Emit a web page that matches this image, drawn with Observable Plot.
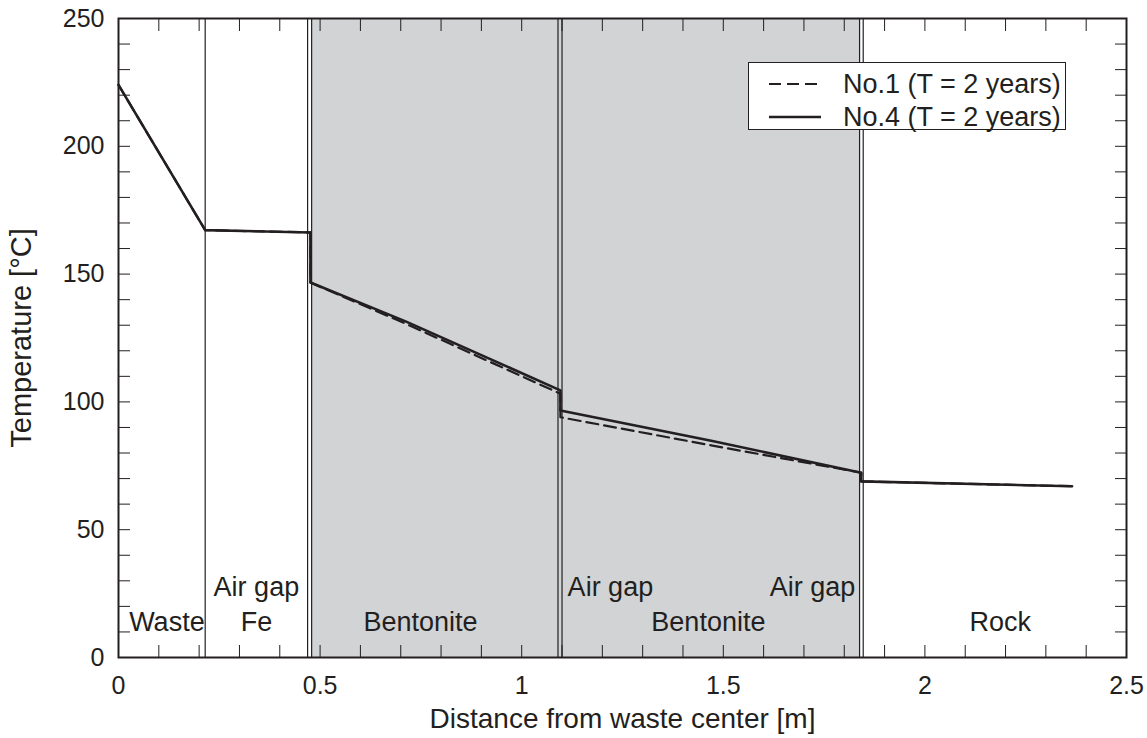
<!DOCTYPE html>
<html>
<head>
<meta charset="utf-8">
<script src="https://cdn.jsdelivr.net/npm/d3@7"></script>
<script src="https://cdn.jsdelivr.net/npm/@observablehq/plot@0.6"></script>
<style>
  body { margin: 0; background: #fff; }
  #wrap { position: relative; width: 1147px; height: 738px; }
  .legend {
    position: absolute; left: 748px; top: 62px; width: 316px; height: 66px;
    border: 1.5px solid #231f20; background: #fff;
    font-family: "Liberation Sans", Arial, sans-serif; font-size: 27px; color: #231f20;
  }
  .legend .row { position: absolute; left: 0; height: 30px; display: flex; align-items: center; }
  .legend svg { margin-left: 18px; margin-right: 20px; }
</style>
</head>
<body>
<div id="wrap"></div>
<script>
// Radial distance from the waste centre [m]
const distance = [0, 0.215, 0.476, 0.476, 0.712, 1.096, 1.096, 1.47, 1.842, 1.842, 2.365];
// Temperature profiles at T = 2 years [°C]
const tempNo1 = [224, 167.2, 166.3, 146.7, 130.6, 103.2, 94.0, 83.0, 72.3, 68.9, 67.0];
const tempNo4 = [224, 167.2, 166.3, 146.7, 131.5, 104.5, 96.6, 84.8, 72.3, 68.9, 67.0];

// Material interfaces [m]
const interfaces = [0.215, 0.469, 0.479, 1.090, 1.100, 1.838, 1.847];
// Bentonite buffer extent [m]
const bufferStart = [0.479];
const bufferEnd = [1.838];

// Layer names and where they are written
const layerNames = ["Waste", "Air gap", "Fe", "Bentonite", "Air gap", "Bentonite", "Air gap", "Rock"];
const layerX = [0.12, 0.342, 0.342, 0.749, 1.22, 1.463, 1.721, 2.187];
const layerY = [13.6, 27.4, 13.6, 13.6, 27.4, 13.6, 27.4, 13.6];

// Axis ticks
const xMajor = [0, 0.5, 1, 1.5, 2, 2.5];
const yMajor = [0, 50, 100, 150, 200, 250];
const xMinor = d3.range(0, 26).map(i => i / 10);
const yMinor = d3.range(0, 26).map(i => i * 10);

const no1 = distance.map((d, i) => ({x: d, t: tempNo1[i]}));
const no4 = distance.map((d, i) => ({x: d, t: tempNo4[i]}));
const buffer = bufferStart.map((s, i) => ({x1: s, x2: bufferEnd[i]}));
const layers = layerNames.map((n, i) => ({name: n, x: layerX[i], y: layerY[i]}));

const ink = "#231f20";
const blank = () => "";

const chart = Plot.plot({
  width: 1147,
  height: 738,
  marginLeft: 118,
  marginRight: 21,
  marginTop: 18,
  marginBottom: 81,
  x: {domain: [0, 2.5]},
  y: {domain: [0, 250]},
  style: {
    fontFamily: "'Liberation Sans', Arial, sans-serif",
    fontSize: "25px",
    color: ink,
    background: "#fff"
  },
  marks: [
    Plot.rect(buffer, {x1: "x1", x2: "x2", fill: "#d1d3d4"}),
    Plot.ruleX(interfaces, {stroke: ink, strokeWidth: 1.2}),
    Plot.line(no1, {x: "x", y: "t", stroke: ink, strokeWidth: 2.2, strokeDasharray: "12,6"}),
    Plot.line(no4, {x: "x", y: "t", stroke: ink, strokeWidth: 2.6}),
    Plot.text(layers, {x: "x", y: "y", text: "name", fill: ink, fontSize: 27}),
    // inward minor/major ticks on all four sides
    Plot.axisX({anchor: "bottom", ticks: xMinor, tickSize: 12, dy: -12, tickFormat: blank, label: null, stroke: ink}),
    Plot.axisX({anchor: "top", ticks: xMinor, tickSize: 12, dy: 12, tickFormat: blank, label: null, stroke: ink}),
    Plot.axisY({anchor: "left", ticks: yMinor, tickSize: 12, dx: 12, tickFormat: blank, label: null, stroke: ink}),
    Plot.axisY({anchor: "right", ticks: yMinor, tickSize: 12, dx: -12, tickFormat: blank, label: null, stroke: ink}),
    // tick labels and titles
    Plot.axisX({
      anchor: "bottom", ticks: xMajor, tickSize: 0, tickPadding: 19,
      tickFormat: d => String(d), fontSize: 25,
      label: null
    }),
    Plot.axisX({
      anchor: "bottom", ticks: [], tickSize: 0, fontSize: 28,
      label: "Distance from waste center [m]", labelAnchor: "center", labelOffset: 70, labelArrow: "none"
    }),
    Plot.axisY({
      anchor: "left", ticks: yMajor, tickSize: 0, tickPadding: 14,
      tickFormat: d => String(d), fontSize: 25,
      label: null
    }),
    Plot.axisY({
      anchor: "left", ticks: [], tickSize: 0, fontSize: 29,
      label: "Temperature [°C]", labelAnchor: "center", labelOffset: 108, labelArrow: "none"
    }),
    Plot.frame({stroke: ink, strokeWidth: 2})
  ]
});

const wrap = document.getElementById("wrap");
wrap.appendChild(chart);

// legend
const legend = document.createElement("div");
legend.className = "legend";
const entries = [
  {name: "No.1 (T = 2 years)", dash: "12,6", width: 2.2},
  {name: "No.4 (T = 2 years)", dash: null, width: 2.6}
];
entries.forEach((e, i) => {
  const row = document.createElement("div");
  row.className = "row";
  row.style.top = (6 + i * 33) + "px";
  row.innerHTML =
    `<svg width="56" height="10"><line x1="2" x2="54" y1="5" y2="5" stroke="${ink}" stroke-width="${e.width}"` +
    (e.dash ? ` stroke-dasharray="${e.dash}"` : "") + `/></svg><span>${e.name}</span>`;
  legend.appendChild(row);
});
wrap.appendChild(legend);
</script>
</body>
</html>
